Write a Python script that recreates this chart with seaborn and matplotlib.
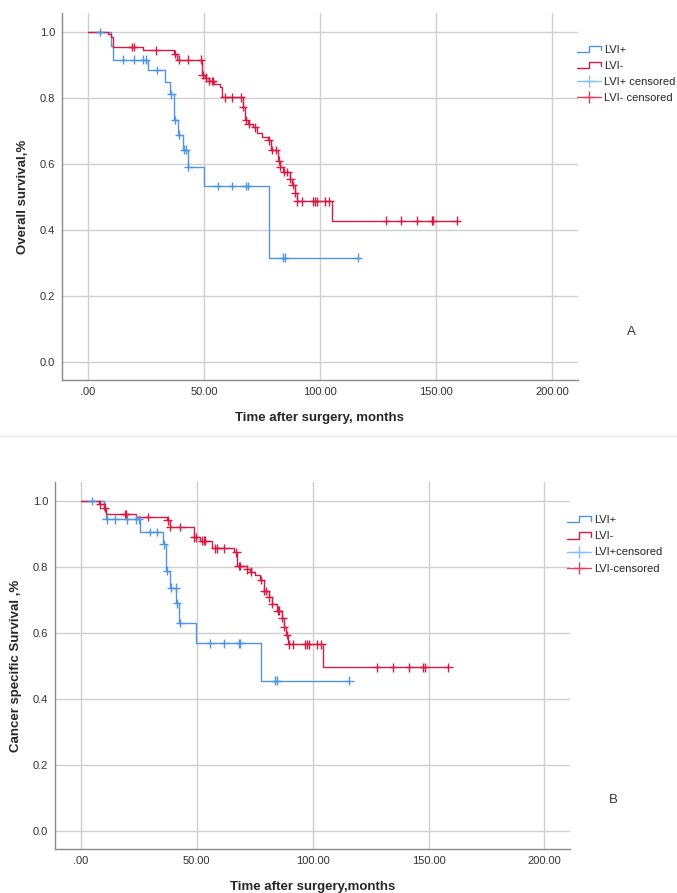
## Kaplan-Meier curves (LVI+ vs LVI-) for overall and cancer specific survival
import numpy as np
import pandas as pd
import matplotlib
matplotlib.use("Agg")
import matplotlib.pyplot as plt
import seaborn as sns
from matplotlib.lines import Line2D
from matplotlib.legend_handler import HandlerBase

## values (months, survival fraction)
groups = ["LVI+", "LVI-"]

# panel A - overall survival
os_pos_t = [9.9, 11.0, 26.0, 33.2, 35.6, 37.2, 38.9, 41.1, 43.0, 50.1, 78.1]
os_pos_s = [0.958, 0.917, 0.885, 0.849, 0.811, 0.733, 0.689, 0.644, 0.592, 0.533, 0.316]
os_pos_cens = [5.2, 15.2, 20.0, 23.9, 24.9, 30.0, 36.0, 37.5, 39.2, 41.5, 42.3, 43.3,
               55.9, 62.1, 68.0, 68.8, 83.9, 84.8, 116.2]
os_neg_t = [8.8, 10.2, 11.0, 23.9, 37.2, 38.5, 49.0, 50.5, 52.0, 54.5, 56.9, 58.0, 66.7,
            67.7, 69.0, 71.0, 73.0, 75.0, 77.7, 78.8, 82.0, 82.8, 84.2, 87.1, 87.8, 89.2,
            90.0, 105.0]
os_neg_s = [0.993, 0.986, 0.955, 0.945, 0.934, 0.917, 0.870, 0.862, 0.852, 0.844, 0.834,
            0.802, 0.773, 0.733, 0.722, 0.711, 0.693, 0.682, 0.672, 0.642, 0.610, 0.592,
            0.576, 0.556, 0.536, 0.513, 0.487, 0.428]
os_neg_cens = [19.1, 19.8, 29.2, 37.6, 39.4, 43.2, 48.8, 49.5, 50.8, 52.3, 53.3, 54.0,
               59.0, 61.9, 66.0, 66.9, 68.2, 69.3, 72.0, 77.9, 79.3, 80.9, 82.3, 83.0,
               84.6, 86.0, 87.3, 88.2, 89.3, 90.2, 92.1, 97.1, 97.8, 98.6, 102.2, 104.0,
               128.4, 134.9, 141.9, 148.1, 148.8, 158.9]

# panel B - cancer specific survival
cs_pos_t = [9.9, 10.8, 25.7, 35.5, 36.9, 38.7, 41.3, 42.5, 49.9, 77.9]
cs_pos_s = [0.972, 0.945, 0.907, 0.869, 0.789, 0.738, 0.690, 0.631, 0.569, 0.456]
cs_pos_cens = [4.9, 11.2, 15.0, 20.0, 24.0, 25.0, 30.0, 32.9, 35.8, 37.2, 38.9, 40.9,
               41.6, 43.0, 55.9, 61.9, 68.1, 68.8, 83.9, 84.8, 115.8]
cs_neg_t = [7.8, 10.0, 10.8, 23.9, 37.2, 38.4, 48.7, 51.6, 56.6, 66.0, 67.4, 71.7, 73.1,
            75.0, 77.5, 78.9, 81.0, 82.5, 84.7, 86.8, 87.5, 88.7, 89.2, 104.7]
cs_neg_s = [0.990, 0.980, 0.961, 0.952, 0.942, 0.922, 0.890, 0.880, 0.857, 0.845, 0.803,
            0.793, 0.786, 0.775, 0.761, 0.727, 0.708, 0.688, 0.668, 0.645, 0.619, 0.594,
            0.566, 0.496]
cs_neg_cens = [8.3, 10.4, 19.0, 19.7, 28.9, 37.5, 38.6, 43.0, 48.9, 49.6, 52.3, 53.0,
               53.7, 58.1, 58.8, 61.9, 67.1, 68.1, 68.8, 71.9, 73.4, 77.7, 79.2, 80.0,
               81.2, 82.7, 84.9, 85.6, 87.0, 87.7, 88.9, 89.7, 91.6, 96.9, 97.6, 98.3,
               101.9, 103.8, 127.7, 134.7, 141.7, 147.6, 148.3, 158.6]

x_ticks = [0, 50, 100, 150, 200]
x_ticklabels = [".00", "50.00", "100.00", "150.00", "200.00"]
y_ticks = [0.0, 0.2, 0.4, 0.6, 0.8, 1.0]
y_ticklabels = ["0.0", "0.2", "0.4", "0.6", "0.8", "1.0"]

pal = {"LVI+": "#4f95e3", "LVI-": "#d61c45"}

sns.set_style("white")
plt.rcParams["font.family"] = ["Liberation Sans", "DejaVu Sans"]


def km_frames(step_t, step_s, cens, group):
    last = max(cens + step_t)
    t = [0.0] + step_t + [last]
    s = [1.0] + step_s + [step_s[-1]]
    curve = pd.DataFrame({"time": t, "surv": s, "group": group})
    ## censored points sit on the curve
    idx = np.searchsorted(np.array(step_t), np.array(cens), side="right")
    full_s = np.array([1.0] + step_s)
    c = pd.DataFrame({"time": cens, "surv": full_s[idx], "group": group})
    return curve, c


class StepHandler(HandlerBase):
    def create_artists(self, legend, orig_handle, xdescent, ydescent, width, height, fontsize, trans):
        x0, y0 = -xdescent, -ydescent
        xs = [x0, x0 + 0.5 * width, x0 + 0.5 * width, x0 + width, x0 + width]
        ys = [y0 + 0.1 * height, y0 + 0.1 * height, y0 + 0.9 * height, y0 + 0.9 * height, y0 + 0.35 * height]
        return [Line2D(xs, ys, color=orig_handle.get_color(), lw=1, transform=trans)]


def draw_panel(ax, data, ylabel, xlabel, legend_labels, legend_xy):
    curves, cens = [], []
    for (st, ss, cc), g in zip(data, groups):
        a, b = km_frames(st, ss, cc, g)
        curves.append(a)
        cens.append(b)
    curves = pd.concat(curves, ignore_index=True)
    cens = pd.concat(cens, ignore_index=True)

    sns.lineplot(data=curves, x="time", y="surv", hue="group", palette=pal, estimator=None,
                 sort=False, drawstyle="steps-post", lw=1, legend=False, ax=ax, zorder=3)
    sns.scatterplot(data=cens, x="time", y="surv", hue="group", palette=pal, marker="+",
                    s=38, linewidth=1, legend=False, ax=ax, zorder=4)

    ax.set_xlim(-11.1, 211)
    ax.set_ylim(-0.055, 1.058)
    ax.set_xticks(x_ticks)
    ax.set_xticklabels(x_ticklabels)
    ax.set_yticks(y_ticks)
    ax.set_yticklabels(y_ticklabels)
    ax.tick_params(length=0, labelsize=8, pad=5, colors="#333333")
    ax.grid(True, color="#cfcfcf", lw=1)
    ax.set_axisbelow(True)
    for sp in ["top", "right"]:
        ax.spines[sp].set_visible(False)
    for sp in ["left", "bottom"]:
        ax.spines[sp].set_color("#8a8a8a")
        ax.spines[sp].set_linewidth(1)
    ax.set_xlabel(xlabel, fontsize=9.5, fontweight="bold", labelpad=11)
    ax.set_ylabel(ylabel, fontsize=9.5, fontweight="bold", labelpad=8)

    h_pos = Line2D([], [], color=pal["LVI+"])
    h_neg = Line2D([], [], color=pal["LVI-"])
    h_pos_c = Line2D([], [], color="#8cc0f0", marker="+", markersize=9, lw=1)
    h_neg_c = Line2D([], [], color="#e2405f", marker="+", markersize=9, lw=1)
    fig.legend([h_pos, h_neg, h_pos_c, h_neg_c], legend_labels,
               handler_map={h_pos: StepHandler(), h_neg: StepHandler()},
               loc="upper left", bbox_to_anchor=legend_xy, frameon=False,
               fontsize=8, handlelength=2.1, handletextpad=0.3, labelspacing=0.55,
               borderaxespad=0, borderpad=0)


fig = plt.figure(figsize=(6.77, 8.93), dpi=100)
ax1 = fig.add_axes([0.0916, 0.5745, 0.7617, 0.4109])
ax2 = fig.add_axes([0.0812, 0.0493, 0.7607, 0.4109])

draw_panel(ax1, [(os_pos_t, os_pos_s, os_pos_cens), (os_neg_t, os_neg_s, os_neg_cens)],
           "Overall survival,%", "Time after surgery, months",
           ["LVI+", "LVI-", "LVI+ censored", "LVI- censored"], (0.853, 0.950))
draw_panel(ax2, [(cs_pos_t, cs_pos_s, cs_pos_cens), (cs_neg_t, cs_neg_s, cs_neg_cens)],
           "Cancer specific Survival ,%", "Time after surgery,months",
           ["LVI+", "LVI-", "LVI+censored", "LVI-censored"], (0.838, 0.423))

fig.text(631 / 677, 1 - 332 / 893, "A", fontsize=9.5, ha="center", va="center", color="#333333")
fig.text(613 / 677, 1 - 800 / 893, "B", fontsize=9.5, ha="center", va="center", color="#333333")
fig.add_artist(Line2D([0, 1], [1 - 436 / 893] * 2, color="#e8e8e8", lw=1, transform=fig.transFigure))

plt.savefig("out.png", dpi=100)
